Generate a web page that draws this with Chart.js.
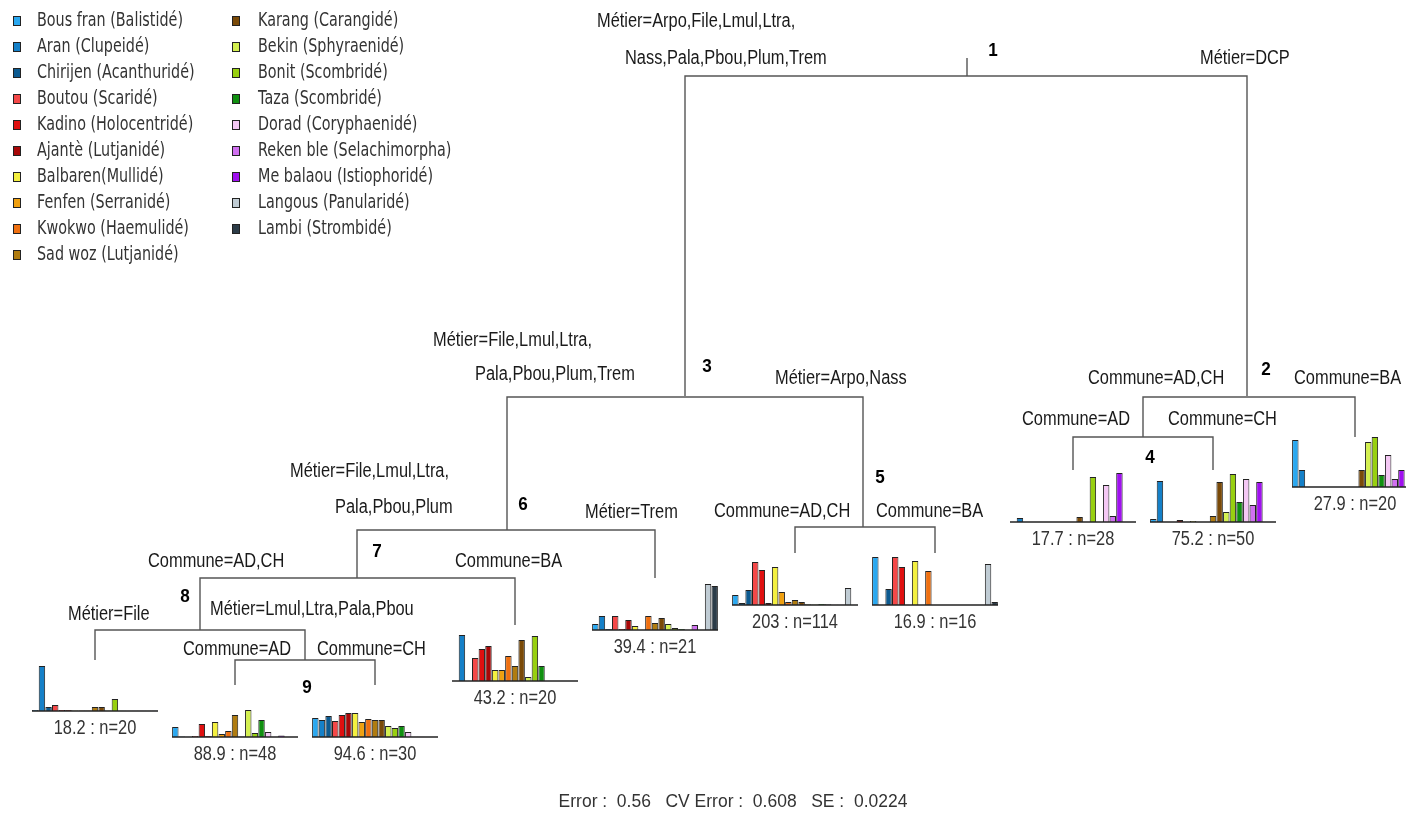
<!DOCTYPE html>
<html lang="fr">
<head>
<meta charset="utf-8">
<title>Arbre de régression multivariée</title>
<script src="https://cdn.jsdelivr.net/npm/chart.js@4.4.1/dist/chart.umd.min.js"></script>
<style>
  html, body { margin: 0; padding: 0; background: #fff; }
  #wrap { position: relative; width: 1406px; height: 815px; overflow: hidden; }
  #wrap canvas { position: absolute; left: 0; top: 0; }
</style>
</head>
<body>
<div id="wrap">
  <canvas id="arbre" width="1406" height="815"></canvas>
</div>
<script>
// especes (ordre des barres dans chaque feuille)
var especes = [
    "Bous fran (Balistidé)", "Aran (Clupeidé)", "Chirijen (Acanthuridé)", "Boutou (Scaridé)",
    "Kadino (Holocentridé)", "Ajantè (Lutjanidé)", "Balbaren(Mullidé)", "Fenfen (Serranidé)",
    "Kwokwo (Haemulidé)", "Sad woz (Lutjanidé)", "Karang (Carangidé)", "Bekin (Sphyraenidé)",
    "Bonit (Scombridé)", "Taza (Scombridé)", "Dorad (Coryphaenidé)", "Reken ble (Selachimorpha)",
    "Me balaou (Istiophoridé)", "Langous (Panularidé)", "Lambi (Strombidé)"
];

var couleurs = [
    "#2aa8f0", "#1580c8", "#0c5a90", "#f44848", "#e01010", "#a80808", "#f4f040",
    "#f0a010", "#f07010", "#b07c10", "#7a4a08", "#d4f050", "#98d010", "#109010",
    "#f4c8f4", "#d070f0", "#a010f0", "#c0ccd4", "#2c3c48"
];

// valeurs moyennes par feuille (unites relatives)
var feuille18_2 = [1, 45, 4, 6, 1, 1, 0.5, 0.5, 0.5, 4, 4, 0.5, 12, 0.3, 0.3, 0.3, 0.3, 0.3, 0.3];
var feuille88_9 = [10, 0.5, 0.3, 1, 13, 1, 15, 3, 6, 22, 0.5, 27, 4, 17, 5, 0.3, 1.5, 0, 0];
var feuille94_6 = [19, 17, 21, 16, 22, 24, 24, 15, 18, 17, 17, 11, 9, 11, 5, 0.3, 0.3, 0, 0];
var feuille43_2 = [0, 46, 0, 23, 32, 35, 11, 11, 25, 15, 41, 4, 45, 15, 0, 0, 0, 0, 0];
var feuille39_4 = [6, 14, 1, 14, 1, 10, 4, 0.3, 14, 7, 12, 6, 2, 1, 0, 5, 0, 46, 44];
var feuille203 = [10, 2, 15, 43, 35, 2, 38, 13, 3, 5, 3, 0.7, 0.5, 1, 0.7, 0.3, 0.3, 17, 0];
var feuille16_9 = [48, 0, 16, 48, 38, 0, 44, 0, 34, 0, 0, 0, 0, 0, 0, 0, 0, 41, 3];
var feuille17_7 = [0, 4, 0, 0, 0, 0, 0, 0, 0, 0, 5, 0, 45, 0, 37, 6, 49, 0, 0];
var feuille75_2 = [3, 41, 0, 0, 2, 0, 1, 0, 0, 6, 40, 10, 48, 20, 43, 17, 40, 0, 0];
var feuille27_9 = [47, 17, 0, 0, 0, 0, 0, 0, 0, 0, 17, 45, 50, 12, 32, 8, 17, 0, 0];

var feuilles = [feuille18_2, feuille88_9, feuille94_6, feuille43_2, feuille39_4,
                feuille203, feuille16_9, feuille17_7, feuille75_2, feuille27_9];
var feuilleTextes = ["18.2 : n=20", "88.9 : n=48", "94.6 : n=30", "43.2 : n=20", "39.4 : n=21",
                     "203 : n=114", "16.9 : n=16", "17.7 : n=28", "75.2 : n=50", "27.9 : n=20"];

var erreurTexte = "Error :  0.56   CV Error :  0.608   SE :  0.0224";

// mise en page de l'arbre (centre x des feuilles et ligne de base)
var feuilleX = [95, 235, 375, 515, 655, 795, 935, 1073, 1213, 1355];
var feuilleBase = [711, 737, 737, 681, 630, 605, 605, 522, 522, 487];

// branches : [x gauche, x droite, y coupure, y bas gauche, y bas droite]
var branches = [
    [685, 1247, 76, 396, 396],
    [1143, 1355, 397, 437, 437],
    [1073, 1213, 437, 470, 470],
    [507, 863, 397, 530, 527],
    [795, 935, 527, 553, 553],
    [357, 655, 530, 578, 578],
    [200, 515, 578, 630, 625],
    [95, 305, 630, 660, 660],
    [235, 375, 660, 685, 685]
];

// etiquettes des coupures : [texte, x, y, alignement]
var etiquettes = [
    ["Métier=Arpo,File,Lmul,Ltra,", 597, 21, "left"],
    ["Nass,Pala,Pbou,Plum,Trem", 625, 58, "left"],
    ["Métier=DCP", 1200, 58, "left"],
    ["Métier=File,Lmul,Ltra,", 433, 340, "left"],
    ["Pala,Pbou,Plum,Trem", 475, 374, "left"],
    ["Métier=Arpo,Nass", 775, 378, "left"],
    ["Commune=AD,CH", 1088, 378, "left"],
    ["Commune=BA", 1294, 378, "left"],
    ["Commune=AD", 1022, 419, "left"],
    ["Commune=CH", 1168, 419, "left"],
    ["Métier=File,Lmul,Ltra,", 290, 471, "left"],
    ["Pala,Pbou,Plum", 335, 507, "left"],
    ["Métier=Trem", 585, 512, "left"],
    ["Commune=AD,CH", 714, 511, "left"],
    ["Commune=BA", 876, 511, "left"],
    ["Commune=AD,CH", 148, 561, "left"],
    ["Commune=BA", 455, 561, "left"],
    ["Métier=File", 68, 614, "left"],
    ["Métier=Lmul,Ltra,Pala,Pbou", 210, 609, "left"],
    ["Commune=AD", 183, 649, "left"],
    ["Commune=CH", 317, 649, "left"]
];

// numeros des noeuds : [texte, x, y]
var noeuds = [
    ["1", 993, 51], ["2", 1266, 370], ["3", 707, 367], ["4", 1150, 458], ["5", 880, 478],
    ["6", 523, 505], ["7", 377, 552], ["8", 185, 597], ["9", 307, 688]
];

// texte ecrase horizontalement (police etroite)
function texte(ctx, t, x, y, font, align, sx, couleur) {
    ctx.save();
    ctx.font = font;
    ctx.fillStyle = couleur;
    ctx.textAlign = align;
    ctx.textBaseline = "middle";
    ctx.translate(x, y);
    ctx.scale(sx, 1);
    ctx.fillText(t, 0, 0);
    ctx.restore();
}

var textesPlugin = {
    id: "textes",
    afterDraw: function (chart) {
        var ctx = chart.ctx;
        var sx = chart.scales.x, sy = chart.scales.y;
        var px = function (v) { return sx.getPixelForValue(v); };
        var py = function (v) { return sy.getPixelForValue(v); };

        etiquettes.forEach(function (e) {
            texte(ctx, e[0], px(e[1]), py(e[2]), "20px 'Liberation Sans'", e[3], 0.82, "#1a1a1a");
        });
        noeuds.forEach(function (n) {
            texte(ctx, n[0], px(n[1]), py(n[2]), "bold 19px 'Liberation Sans'", "center", 0.9, "#000");
        });
        feuilleTextes.forEach(function (t, i) {
            texte(ctx, t, px(feuilleX[i]), py(feuilleBase[i] + 17), "20px 'Liberation Sans'", "center", 0.82, "#333");
        });
        texte(ctx, erreurTexte, px(733), py(802), "19px 'Liberation Sans'", "center", 0.92, "#333");

        // legende en deux colonnes
        ctx.save();
        ctx.font = "19px 'DejaVu Sans'";
        var ech = 146 / ctx.measureText(especes[0]).width;
        ctx.restore();
        especes.forEach(function (nom, i) {
            var col = i < 10 ? 0 : 1;
            var row = i < 10 ? i : i - 10;
            var xc = col === 0 ? 13 : 232;
            var xt = col === 0 ? 37 : 258;
            var yc = 21 + row * 26;
            ctx.save();
            ctx.fillStyle = couleurs[i];
            ctx.strokeStyle = "#222";
            ctx.lineWidth = 1;
            ctx.fillRect(px(xc), py(yc - 5), 8, 10);
            ctx.strokeRect(px(xc) + 0.5, py(yc - 5) + 0.5, 7, 9);
            ctx.restore();
            texte(ctx, nom, px(xt), py(yc), "19px 'DejaVu Sans'", "left", ech, "#333");
        });
    }
};

document.addEventListener("DOMContentLoaded", function () {
    // segments de l'arbre
    var jeux = [{
        data: [{ x: 967, y: 58 }, { x: 967, y: 76 }],
        showLine: true, borderColor: "#555", borderWidth: 1.4, pointRadius: 0
    }];
    branches.forEach(function (b) {
        jeux.push({
            data: [{ x: b[0], y: b[3] }, { x: b[0], y: b[2] }, { x: b[1], y: b[2] }, { x: b[1], y: b[4] }],
            showLine: true, borderColor: "#555", borderWidth: 1.4, pointRadius: 0, tension: 0
        });
    });

    new Chart(document.getElementById("arbre"), {
        type: "scatter",
        data: { datasets: jeux },
        options: {
            responsive: false,
            animation: false,
            devicePixelRatio: 1,
            layout: { padding: 0 },
            plugins: { legend: { display: false }, tooltip: { enabled: false } },
            scales: {
                x: { type: "linear", min: 0, max: 1406, display: false },
                y: { type: "linear", min: 0, max: 815, reverse: true, display: false }
            }
        },
        plugins: [textesPlugin]
    });

    // ligne de base sous les barres
    var basePlugin = {
        id: "base",
        afterDatasetsDraw: function (chart) {
            var a = chart.chartArea, ctx = chart.ctx;
            ctx.save();
            ctx.strokeStyle = "#222";
            ctx.lineWidth = 1.5;
            ctx.beginPath();
            ctx.moveTo(a.left, a.bottom);
            ctx.lineTo(a.right, a.bottom);
            ctx.stroke();
            ctx.restore();
        }
    };

    // un petit diagramme en barres par feuille
    var wrap = document.getElementById("wrap");
    feuilles.forEach(function (valeurs, i) {
        var c = document.createElement("canvas");
        c.width = 130;
        c.height = 54;
        c.style.left = (feuilleX[i] - 65) + "px";
        c.style.top = (feuilleBase[i] - 52) + "px";
        wrap.appendChild(c);

        new Chart(c, {
            type: "bar",
            data: {
                labels: especes,
                datasets: [{
                    data: valeurs,
                    backgroundColor: couleurs,
                    borderColor: "#222",
                    borderWidth: 1,
                    barPercentage: 0.97,
                    categoryPercentage: 1
                }]
            },
            options: {
                responsive: false,
                animation: false,
                devicePixelRatio: 1,
                layout: { padding: { left: 2, right: 2, top: 0, bottom: 2 } },
                plugins: { legend: { display: false }, tooltip: { enabled: false } },
                scales: {
                    x: { display: false },
                    y: { display: false, min: 0, max: 52 }
                }
            },
            plugins: [basePlugin]
        });
    });
});
</script>
</body>
</html>
